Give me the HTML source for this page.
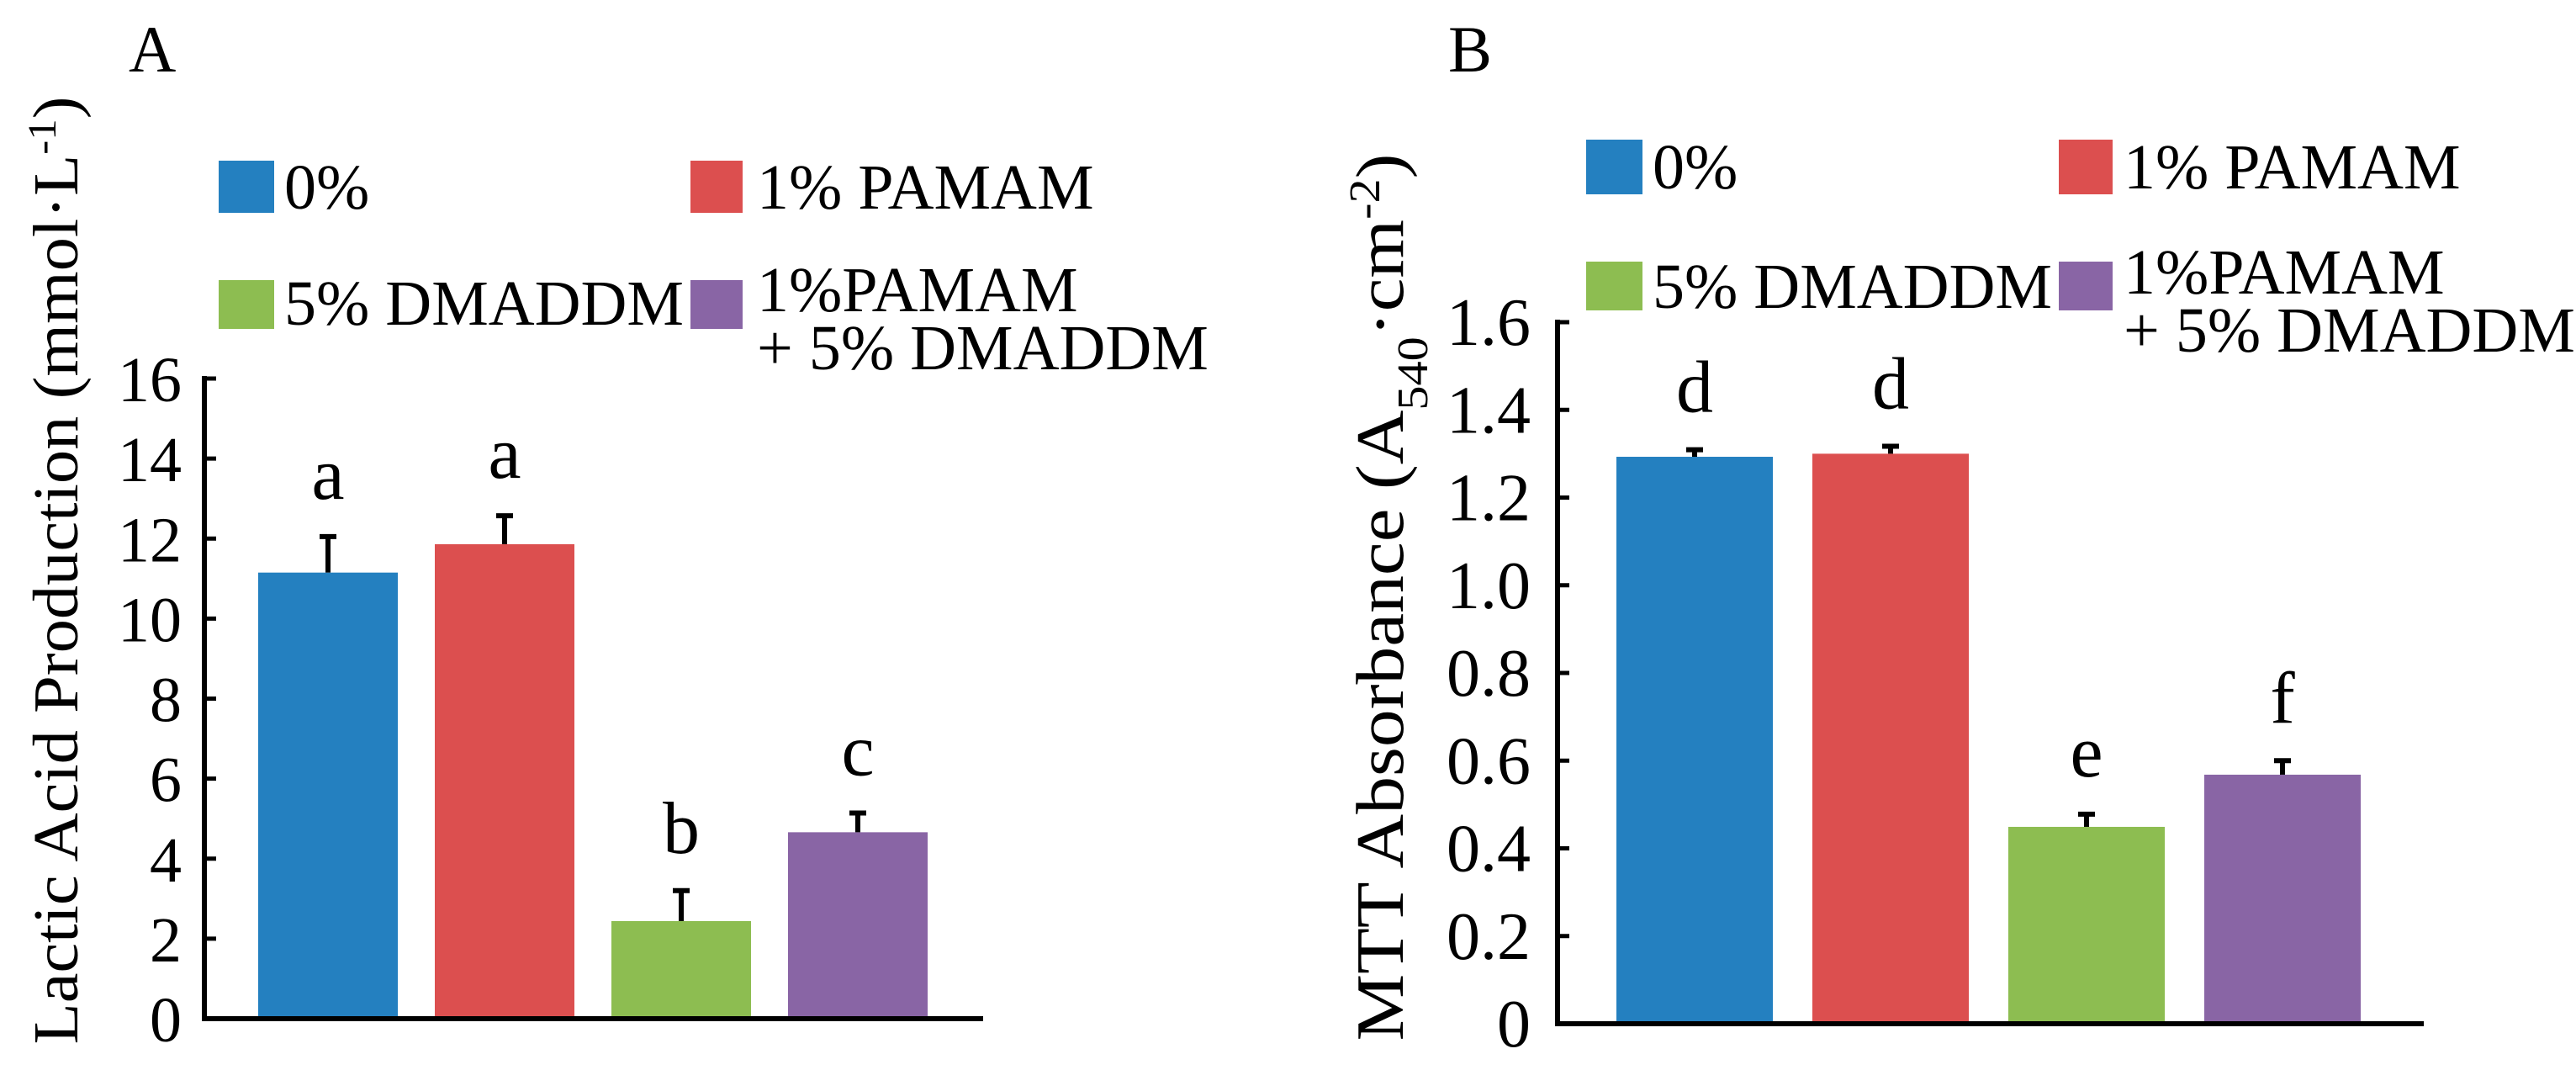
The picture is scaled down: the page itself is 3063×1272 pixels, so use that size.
<!DOCTYPE html>
<html><head><meta charset="utf-8"><style>
html,body{margin:0;padding:0;background:#fff;}
svg{display:block;}
svg text{font-family:"Liberation Serif","Times New Roman",serif;}
</style></head><body>
<svg id="chart" width="3063" height="1272" viewBox="0 0 3063 1272" xmlns="http://www.w3.org/2000/svg" font-family="Liberation Serif, serif">
<rect width="3063" height="1272" fill="#fff"/>
<g>
<text x="153" y="85" font-size="78">A</text>
<text transform="translate(92,678) rotate(-90)" text-anchor="middle" font-size="76" textLength="1127" lengthAdjust="spacingAndGlyphs">Lactic Acid Production (mmol·L<tspan baseline-shift="super" font-size="48">-1</tspan>)</text>
<g>
<rect x="260" y="191" width="66" height="62" fill="#2480c0"/>
<text x="338" y="248" font-size="76">0%</text>
<rect x="821" y="191" width="62" height="62" fill="#dc4f4f"/>
<text x="900" y="248" font-size="76">1% PAMAM</text>
<rect x="260" y="333" width="66" height="58" fill="#8dbd51"/>
<text x="338" y="386" font-size="76">5% DMADDM</text>
<rect x="821" y="333" width="62" height="58" fill="#8965a5"/>
<text x="900" y="370" font-size="76">1%PAMAM</text>
<text x="900" y="439" font-size="76">+ 5% DMADDM</text>
</g>
<g id="plotA"></g>
</g>
<g>
<text x="1722" y="85" font-size="78">B</text>
<text transform="translate(1668,710) rotate(-90)" text-anchor="middle" font-size="80" textLength="1055" lengthAdjust="spacingAndGlyphs">MTT Absorbance (A<tspan baseline-shift="sub" font-size="52">540</tspan>·cm<tspan baseline-shift="super" font-size="52">-2</tspan>)</text>
<g>
<rect x="1886" y="166" width="67" height="65" fill="#2480c0"/>
<text x="1965" y="224" font-size="76">0%</text>
<rect x="2448" y="166" width="64" height="65" fill="#dc4f4f"/>
<text x="2525" y="224" font-size="76">1% PAMAM</text>
<rect x="1886" y="311" width="67" height="58" fill="#8dbd51"/>
<text x="1965" y="366" font-size="76">5% DMADDM</text>
<rect x="2448" y="311" width="64" height="58" fill="#8965a5"/>
<text x="2525" y="349" font-size="76">1%PAMAM</text>
<text x="2525" y="418" font-size="76">+ 5% DMADDM</text>
</g>
<g id="plotB"></g>
</g>
</svg>
<script>
const categories = ["0%", "1% PAMAM", "5% DMADDM", "1%PAMAM + 5% DMADDM"];
const colors = ["#2480c0", "#dc4f4f", "#8dbd51", "#8965a5"];
const lacticValues = [11.15, 11.86, 2.44, 4.66];
const lacticErrors = [0.9, 0.71, 0.76, 0.48];
const lacticLetters = ["a", "a", "b", "c"];
const lacticTicks = [0, 2, 4, 6, 8, 10, 12, 14, 16];
const lacticTickLabels = ["0", "2", "4", "6", "8", "10", "12", "14", "16"];
const mttValues = [1.293, 1.30, 0.449, 0.568];
const mttErrors = [0.016, 0.017, 0.029, 0.032];
const mttLetters = ["d", "d", "e", "f"];
const mttTicks = [0, 0.2, 0.4, 0.6, 0.8, 1.0, 1.2, 1.4, 1.6];
const mttTickLabels = ["0", "0.2", "0.4", "0.6", "0.8", "1.0", "1.2", "1.4", "1.6"];

const NS = "http://www.w3.org/2000/svg";
function mk(tag, attrs, parent) {
  const el = document.createElementNS(NS, tag);
  for (const k in attrs) el.setAttribute(k, attrs[k]);
  parent.appendChild(el);
  return el;
}
function drawPanel(g, cfg, values, errors, letters, ticks, tickLabels) {
  const yScale = v => cfg.y0 - (v - cfg.min) / (cfg.max - cfg.min) * (cfg.y0 - cfg.yTop);
  const xBand = i => cfg.barStart + i * cfg.step;
  values.forEach((v, i) => {
    const x = xBand(i);
    const bar = mk("rect", {x: x, y: yScale(v), width: cfg.barW, height: cfg.y0 - yScale(v), fill: colors[i]}, g);
    
    
    const cx = x + cfg.barW / 2;
    const top = yScale(v + errors[i]);
    const stem = mk("line", {x1: cx, x2: cx, y1: yScale(v), y2: top, stroke: "#000", "stroke-width": cfg.ew}, g);
    
    
    const cap = mk("line", {x1: cx - 10, x2: cx + 10, y1: top, y2: top, stroke: "#000", "stroke-width": cfg.ew}, g);
    
    
    const lt = mk("text", {x: cx, y: top - 45, "text-anchor": "middle", "font-size": 88}, g);
    lt.textContent = letters[i];
    
    
  });
  const ax = mk("line", {x1: cfg.x0, x2: cfg.x0, y1: cfg.yTop - 3, y2: cfg.y0 + 3, stroke: "#000", "stroke-width": 6}, g);
  
  
  const bx = mk("line", {x1: cfg.x0 - 3, x2: cfg.xEnd, y1: cfg.y0, y2: cfg.y0, stroke: "#000", "stroke-width": 6}, g);
  
  
  ticks.forEach((t, i) => {
    const y = yScale(t);
    const tk = mk("line", {x1: cfg.x0, x2: cfg.x0 + 14, y1: y, y2: y, stroke: "#000", "stroke-width": 5}, g);
    
    
    const tl = mk("text", {x: cfg.labelX, y: y + 27, "text-anchor": "end", "font-size": cfg.tickFont}, g);
    tl.textContent = tickLabels[i];
    
    
  });
}
drawPanel(document.getElementById("plotA"),
  {id: "a", min: 0, max: 16, y0: 1211, yTop: 450, x0: 243, xEnd: 1169, barStart: 307, step: 210, barW: 166, ew: 6, labelX: 216, tickFont: 76},
  lacticValues, lacticErrors, lacticLetters, lacticTicks, lacticTickLabels);
drawPanel(document.getElementById("plotB"),
  {id: "b", min: 0, max: 1.6, y0: 1217, yTop: 383, x0: 1852, xEnd: 2882, barStart: 1922, step: 233, barW: 186, ew: 6, labelX: 1820, tickFont: 80},
  mttValues, mttErrors, mttLetters, mttTicks, mttTickLabels);
</script>
</body></html>
